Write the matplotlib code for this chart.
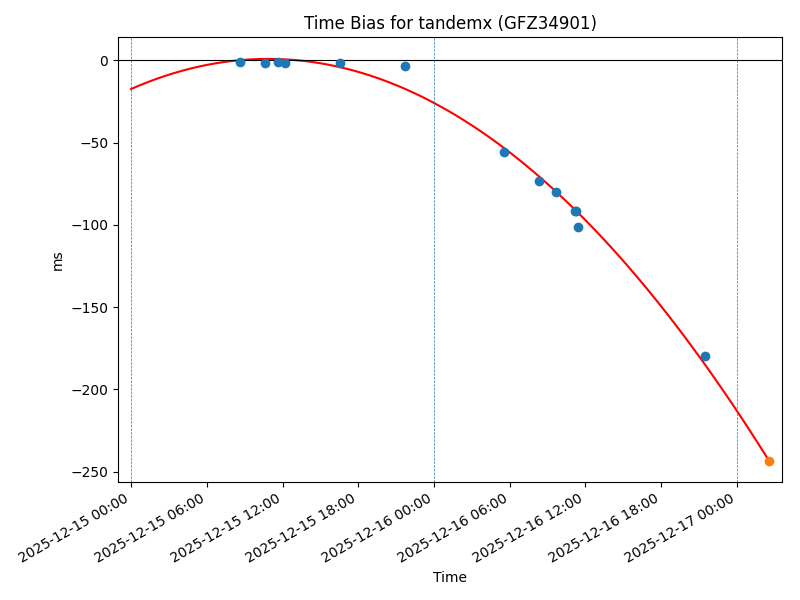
import matplotlib
matplotlib.use("Agg")
import matplotlib.pyplot as plt
import matplotlib.dates as mdates
import numpy as np
import pandas as pd

title = "Time Bias for tandemx (GFZ34901)"

obs_times = ["2025-12-15 08:38", "2025-12-15 10:37", "2025-12-15 11:39", "2025-12-15 12:12",
             "2025-12-15 16:33", "2025-12-15 21:42", "2025-12-16 05:34", "2025-12-16 08:20",
             "2025-12-16 09:41", "2025-12-16 11:11", "2025-12-16 11:16", "2025-12-16 11:26",
             "2025-12-16 21:27"]
obs_bias = [-1.0, -1.4, -0.8, -1.4, -1.4, -3.6, -56.0, -73.4, -80.1, -91.6, -91.8, -101.5, -179.6]

pred_time = ["2025-12-17 02:34"]
pred_bias = [-243.5]

fit_start = "2025-12-15 00:00"
day_lines = ["2025-12-15", "2025-12-16", "2025-12-17"]
xlim = ["2025-12-14 22:58", "2025-12-17 03:34"]
ylim = [-256.1, 14.0]

t_obs = pd.to_datetime(obs_times)
t_pred = pd.to_datetime(pred_time)
t0 = pd.Timestamp(fit_start)

h_obs = (t_obs - t0).total_seconds() / 3600
h_pred = (t_pred - t0).total_seconds() / 3600
coef = np.polyfit(np.concatenate([h_obs, h_pred]), np.concatenate([obs_bias, pred_bias]), 2)
hh = np.linspace(0, h_pred[0], 300)
t_fit = t0 + pd.to_timedelta(hh, unit="h")
y_fit = np.polyval(coef, hh)

fig, ax = plt.subplots(figsize=(8, 6), dpi=100)
fig.subplots_adjust(left=0.1475, right=0.9775, top=0.938, bottom=0.197)

ax.plot(t_fit, y_fit, color="red", linewidth=1.5)
ax.scatter(t_obs, obs_bias, color="C0", zorder=3)
ax.scatter(t_pred, pred_bias, color="C1", zorder=3)
ax.axhline(0, color="black", linewidth=0.8)
for d in day_lines:
    ax.axvline(pd.Timestamp(d), color="C0", linestyle="--", linewidth=0.5)

ax.set_xlim(pd.to_datetime(xlim))
ax.set_ylim(ylim)
ax.xaxis.set_major_locator(mdates.HourLocator(byhour=[0, 6, 12, 18]))
ax.xaxis.set_major_formatter(mdates.DateFormatter("%Y-%m-%d %H:%M"))
for lbl in ax.get_xticklabels():
    lbl.set_rotation(30)
    lbl.set_ha("right")

ax.set_title(title)
ax.set_xlabel("Time")
ax.set_ylabel("ms")

fig.savefig("out.png", dpi=100)
